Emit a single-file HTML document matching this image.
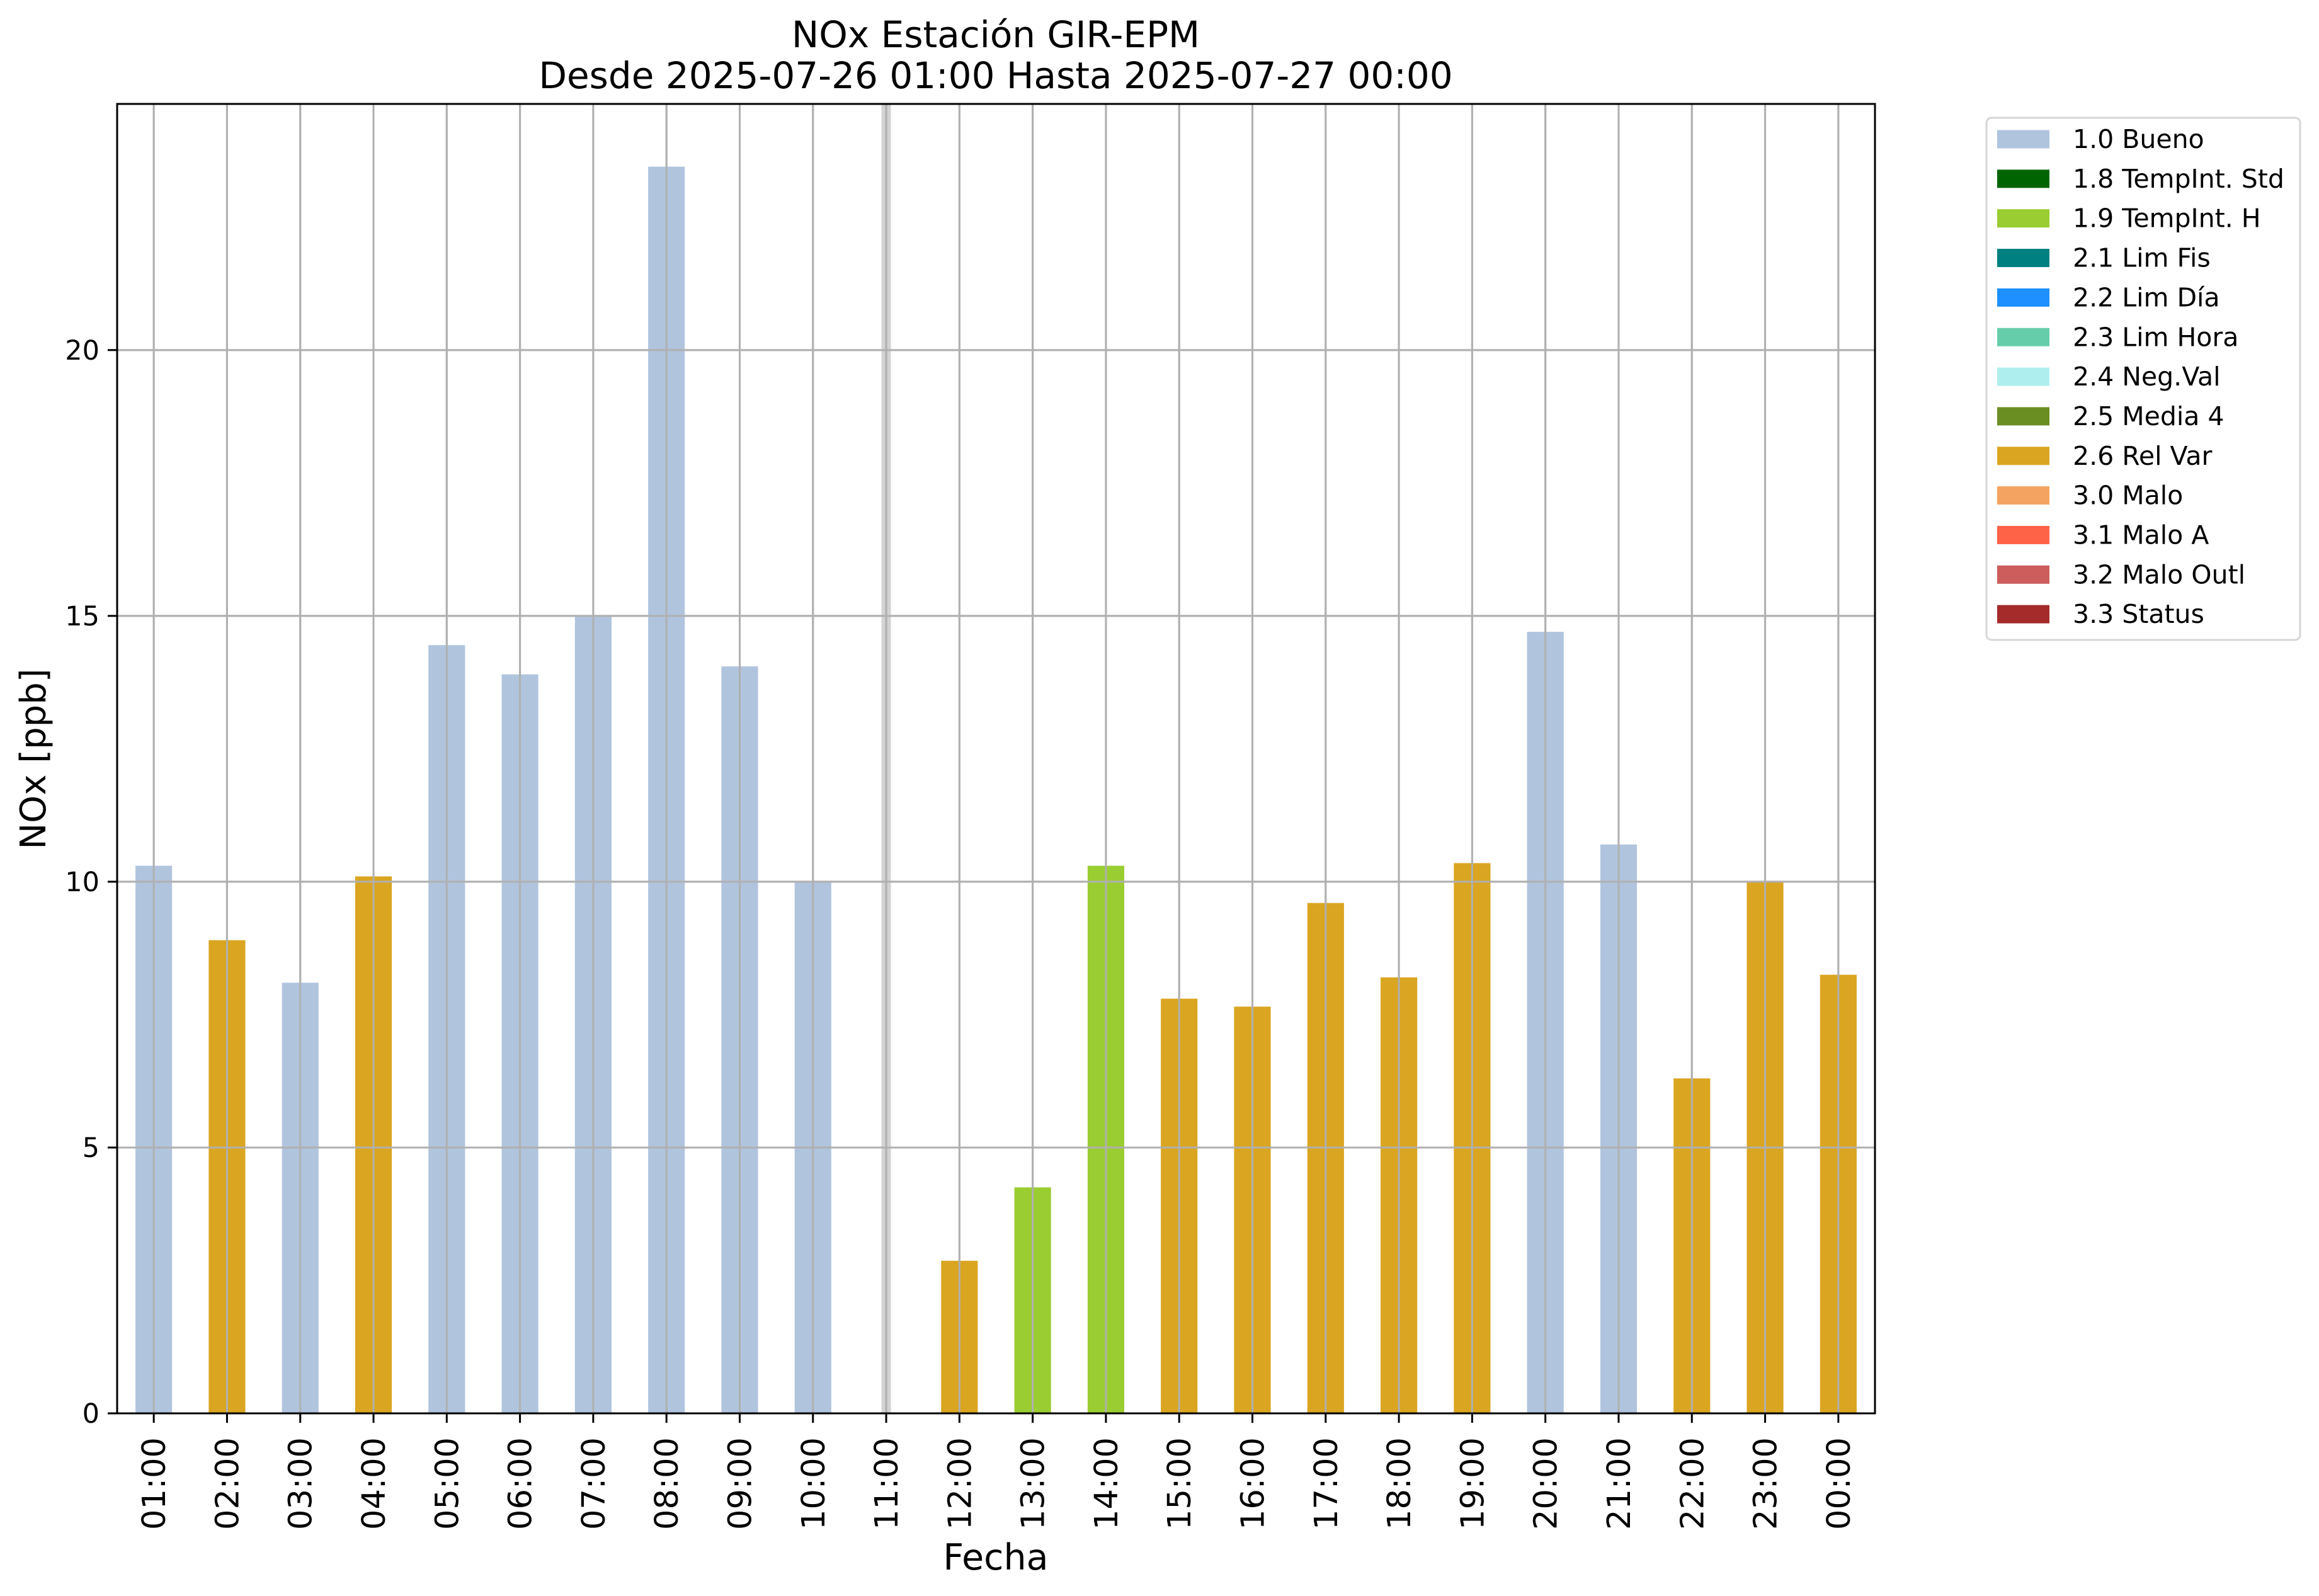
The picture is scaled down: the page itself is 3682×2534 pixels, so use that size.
<!DOCTYPE html>
<html>
<head>
<meta charset="utf-8">
<style>
html,body{margin:0;padding:0;background:#fff;}
svg{display:block;}
text{font-family:"DejaVu Sans","Liberation Sans",sans-serif;fill:#000;}
</style>
</head>
<body>
<svg id="chart" width="3682" height="2534" viewBox="0 0 3682 2534" xmlns="http://www.w3.org/2000/svg">
  <rect x="0" y="0" width="3682" height="2534" fill="#fff"/>
  <text x="1581" y="75" font-size="58" text-anchor="middle">NOx Estación GIR-EPM</text>
  <text x="1581" y="140" font-size="58" text-anchor="middle">Desde 2025-07-26 01:00 Hasta 2025-07-27 00:00</text>
  <g id="grid"></g>
  <g id="bars"></g>
  <g id="axes"></g>
  <text transform="translate(72,1205) rotate(-90)" font-size="56" text-anchor="middle">NOx [ppb]</text>
  <text x="1581" y="2492" font-size="57" text-anchor="middle">Fecha</text>
  <g id="legend"></g>
</svg>
<script>
const categories = ["01:00","02:00","03:00","04:00","05:00","06:00","07:00","08:00","09:00","10:00","11:00","12:00","13:00","14:00","15:00","16:00","17:00","18:00","19:00","20:00","21:00","22:00","23:00","00:00"];
const values = [10.3,8.9,8.1,10.1,14.45,13.9,15.0,23.45,14.05,10.0,null,2.87,4.25,10.3,7.8,7.65,9.6,8.2,10.35,14.7,10.7,6.3,10.0,8.25];
const flags = ["1.0","2.6","1.0","2.6","1.0","1.0","1.0","1.0","1.0","1.0",null,"2.6","1.9","1.9","2.6","2.6","2.6","2.6","2.6","1.0","1.0","2.6","2.6","2.6"];
const yTicks = [0,5,10,15,20];
const legendCodes = ["1.0","1.8","1.9","2.1","2.2","2.3","2.4","2.5","2.6","3.0","3.1","3.2","3.3"];
const legendLabels = ["1.0 Bueno","1.8 TempInt. Std","1.9 TempInt. H","2.1 Lim Fis","2.2 Lim Día","2.3 Lim Hora","2.4 Neg.Val","2.5 Media 4","2.6 Rel Var","3.0 Malo","3.1 Malo A","3.2 Malo Outl","3.3 Status"];
const legendColors = ["#b0c4de","#006400","#9acd32","#008080","#1e90ff","#66cdaa","#afeeee","#6b8e23","#daa520","#f4a460","#ff6347","#cd5c5c","#a52a2a"];
const missingIndex = 10;

const NS = "http://www.w3.org/2000/svg";
const L = 186, R = 2977, T = 165, B = 2244;
const yMax = 24.63;
const step = (R - L) / categories.length;
function xPos(i){ return L + (i + 0.5) * step; }
function yPos(v){ return B - v / yMax * (B - T); }
function mk(tag, attrs, parent){
  const e = document.createElementNS(NS, tag);
  for (const k in attrs) e.setAttribute(k, attrs[k]);
  parent.appendChild(e);
  return e;
}
const colorOf = {};
legendCodes.forEach((c,i)=>{ colorOf[c] = legendColors[i]; });

const grid = document.getElementById('grid');
const bars = document.getElementById('bars');
const axes = document.getElementById('axes');
const legend = document.getElementById('legend');

// missing-data band
{
  const band = mk('rect', {x: xPos(missingIndex) - 7.5, y: T, width: 15, height: B - T, fill: '#d3d3d3'}, grid);
  
  
}
// vertical grid
categories.forEach((c,i)=>{
  const g = mk('line', {x1: xPos(i), x2: xPos(i), y1: T, y2: B, stroke: '#b0b0b0', 'stroke-width': 3}, grid);
  
  
});
// horizontal grid
yTicks.forEach(v=>{
  const g = mk('line', {x1: L, x2: R, y1: yPos(v), y2: yPos(v), stroke: '#b0b0b0', 'stroke-width': 3}, grid);
  
  
});
// bars
values.forEach((v,i)=>{
  if (v === null || v === undefined) return;
  const bw = step * 0.5;
  const r = mk('rect', {x: xPos(i) - bw/2, y: yPos(v), width: bw, height: B - yPos(v), fill: colorOf[flags[i]] || '#b0c4de'}, bars);
  
  
});
// gridlines drawn on top of bars (matplotlib draws grid above bars here)
categories.forEach((c,i)=>{
  const g = mk('line', {x1: xPos(i), x2: xPos(i), y1: T, y2: B, stroke: '#b0b0b0', 'stroke-width': 3}, bars);
  
  
});
yTicks.forEach(v=>{
  const g = mk('line', {x1: L, x2: R, y1: yPos(v), y2: yPos(v), stroke: '#b0b0b0', 'stroke-width': 3}, bars);
  
  
});
// frame
{
  const f = mk('rect', {x: L, y: T, width: R - L, height: B - T, fill: 'none', stroke: '#000', 'stroke-width': 3}, axes);
  
  
}
// y ticks
yTicks.forEach(v=>{
  const t = mk('line', {x1: L - 15, x2: L, y1: yPos(v), y2: yPos(v), stroke: '#000', 'stroke-width': 3}, axes);
  
  
  const lb = mk('text', {x: L - 28, y: yPos(v) + 15, 'font-size': 43, 'text-anchor': 'end'}, axes);
  
  
  lb.textContent = String(v);
});
// x ticks
categories.forEach((c,i)=>{
  const t = mk('line', {x1: xPos(i), x2: xPos(i), y1: B, y2: B + 15, stroke: '#000', 'stroke-width': 3}, axes);
  
  
  const lb = mk('text', {transform: 'translate(' + (xPos(i) + 18) + ',' + (B + 38) + ') rotate(-90)', 'font-size': 51, 'text-anchor': 'end'}, axes);
  
  
  lb.textContent = c;
});
// legend
{
  const box = mk('rect', {x: 3154, y: 187, width: 498, height: 829, rx: 8, fill: '#fff', stroke: '#d6d6d6', 'stroke-width': 3}, legend);
  
  
}
legendLabels.forEach((lab,i)=>{
  const cy = 221 + i * 62.85;
  const g = mk('g', {}, legend);
  
  
  const p = mk('rect', {x: 3171, y: cy - 14.5, width: 83, height: 29, fill: legendColors[i]}, g);
  
  
  const tx = mk('text', {x: 3291, y: cy + 14, 'font-size': 41}, g);
  
  
  tx.textContent = lab;
});
</script>
</body>
</html>
